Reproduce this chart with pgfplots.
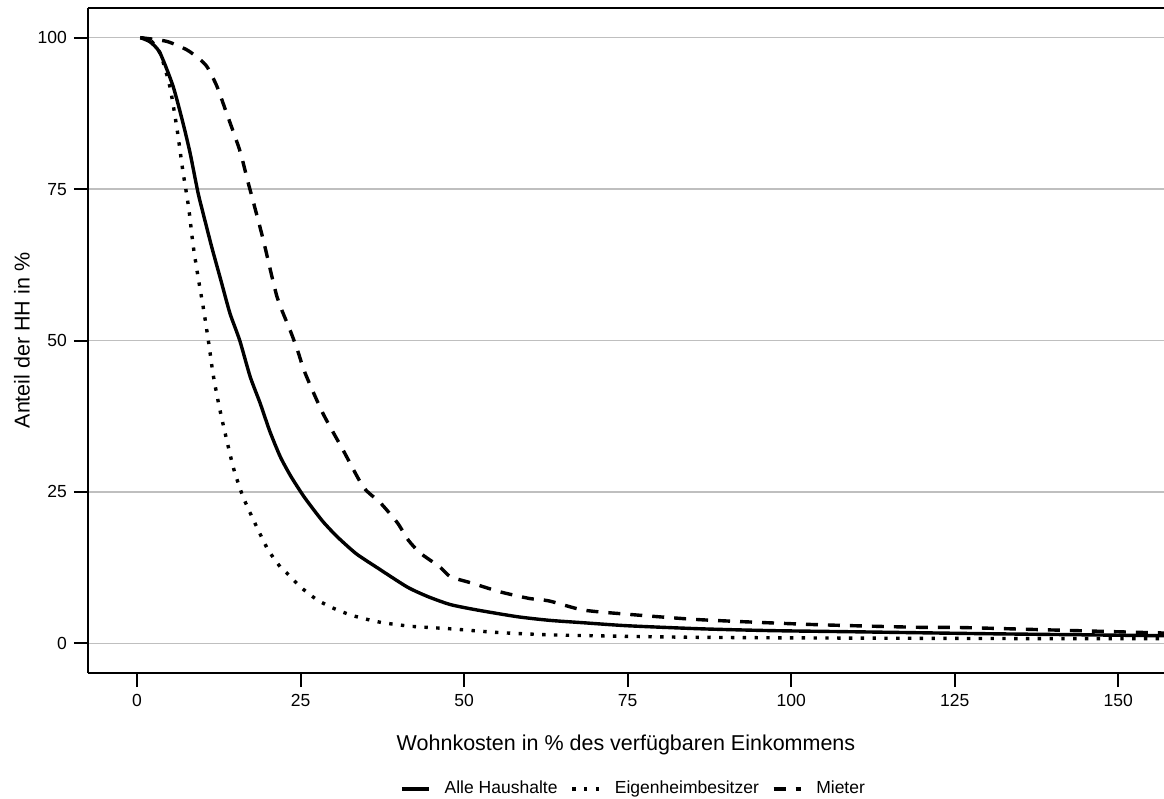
\documentclass[border=0pt]{standalone}
\usepackage{fontspec}
\setmainfont{Liberation Sans}
\usepackage{pgfplots}
\pgfplotsset{compat=1.18}

\begin{document}
\begin{tikzpicture}
% page = 1164x799 px at 0.5pt per px; axis lower left at (0,0)
\useasboundingbox (-44pt,-63pt) rectangle (538pt,336.5pt);
\begin{axis}[
  scale only axis,
  width=538pt, height=332.5pt,
  xmin=-7.5, xmax=157, ymin=-4.9, ymax=104.9,
  axis x line*=box, axis y line*=left,
  xtick pos=left, ytick pos=left,
  axis line style={line width=1pt},
  xtick={0,25,...,150}, ytick={0,25,...,100},
  tick align=outside, major tick length=7pt,
  tick style={black, line width=1pt},
  tick label style={font=\fontsize{8.75}{10}\selectfont},
  /pgf/number format/assume math mode=true,
  ymajorgrids=true,
  grid style={black!25, line width=0.75pt},
  xlabel={Wohnkosten in \% des verfügbaren Einkommens},
  ylabel={Anteil der HH in \%},
  label style={font=\fontsize{10.75}{12}\selectfont},
  xlabel style={at={(axis description cs:0.5,-0.1083)}, anchor=center},
  ylabel style={at={(axis description cs:-0.0613,0.5)}, anchor=center},
  legend style={at={(axis description cs:0.508,-0.1744)}, anchor=center,
                legend columns=3, draw=none, fill=none,
                font=\fontsize{8.75}{10}\selectfont,
                /tikz/every even column/.append style={column sep=4.5pt}},
  legend image code/.code={\draw[#1] (0pt,0pt) -- (13.5pt,0pt); \path (18.5pt,0pt);},
  every axis plot/.append style={black, line width=1.7pt, line join=round},
]
\addplot[smooth, tension=0.4] coordinates {
  (0.5,100) (2,99.3) (3.5,97.5) (5.5,92) (7,86) (8.1,81) (9.3,74.5) (10.1,71)
  (11.4,65.5) (12.8,60) (14.2,54.5) (15.7,50) (17.3,44) (18.8,39.7) (20.3,35)
  (21.9,30.8) (23.5,27.6) (25.4,24.4) (26.9,22.2) (28.5,20) (30.6,17.6) (33.5,14.8)
  (36.7,12.5) (41.3,9.3) (44.5,7.7) (47.9,6.4) (52,5.5) (58.1,4.4) (63,3.8)
  (68.2,3.4) (75,2.9) (86.1,2.4) (96.8,2.1) (110,1.9) (128.9,1.6) (145,1.4) (157,1.25)
};
\addplot[smooth, tension=0.4, dash pattern=on 1.7pt off 4.2pt] coordinates {
  (0.5,100) (2,99.6) (3.5,97.5) (5,92) (6.1,85) (7,78) (7.6,74) (8,71) (8.6,65.5)
  (9.4,60) (10.1,55.6) (10.9,50) (11.6,44.6) (12.3,40.5) (13,36.9) (14.7,29.1)
  (16.2,24.2) (18.3,19.2) (20,15.5) (21.9,12.6) (22.9,11.6) (25,9.3) (27.5,7.2)
  (30,5.8) (32.6,4.7) (35,4) (37.6,3.4) (42,2.8) (47.9,2.4) (55,1.8) (63.1,1.4)
  (75,1.15) (85,1) (100,0.9) (128,0.8) (157,0.75)
};
\addplot[smooth, tension=0.4, dash pattern=on 6pt off 5pt] coordinates {
  (0.5,100) (4.5,99.4) (7.6,98) (9.5,96.5) (10.7,95.2) (12.2,92) (13.7,87.5)
  (15.7,81.4) (17,76) (17.5,74) (19.3,66.6) (21.4,57.2) (23.4,51.7) (24.5,48.5)
  (25.7,44.6) (28.4,38) (31.5,31.9) (34.6,25.8) (37.2,23.2) (39.8,19.9) (41.5,17)
  (43.3,14.9) (46.3,12.6) (47.9,11) (51,10) (55.5,8.5) (60,7.4) (63,7) (68.2,5.5)
  (75,4.8) (86.1,3.9) (103.4,3.1) (119.3,2.65) (126.3,2.6) (140,2.2) (157,1.7)
};
\legend{Alle Haushalte, Eigenheimbesitzer, Mieter}
\end{axis}
\end{tikzpicture}
\end{document}
